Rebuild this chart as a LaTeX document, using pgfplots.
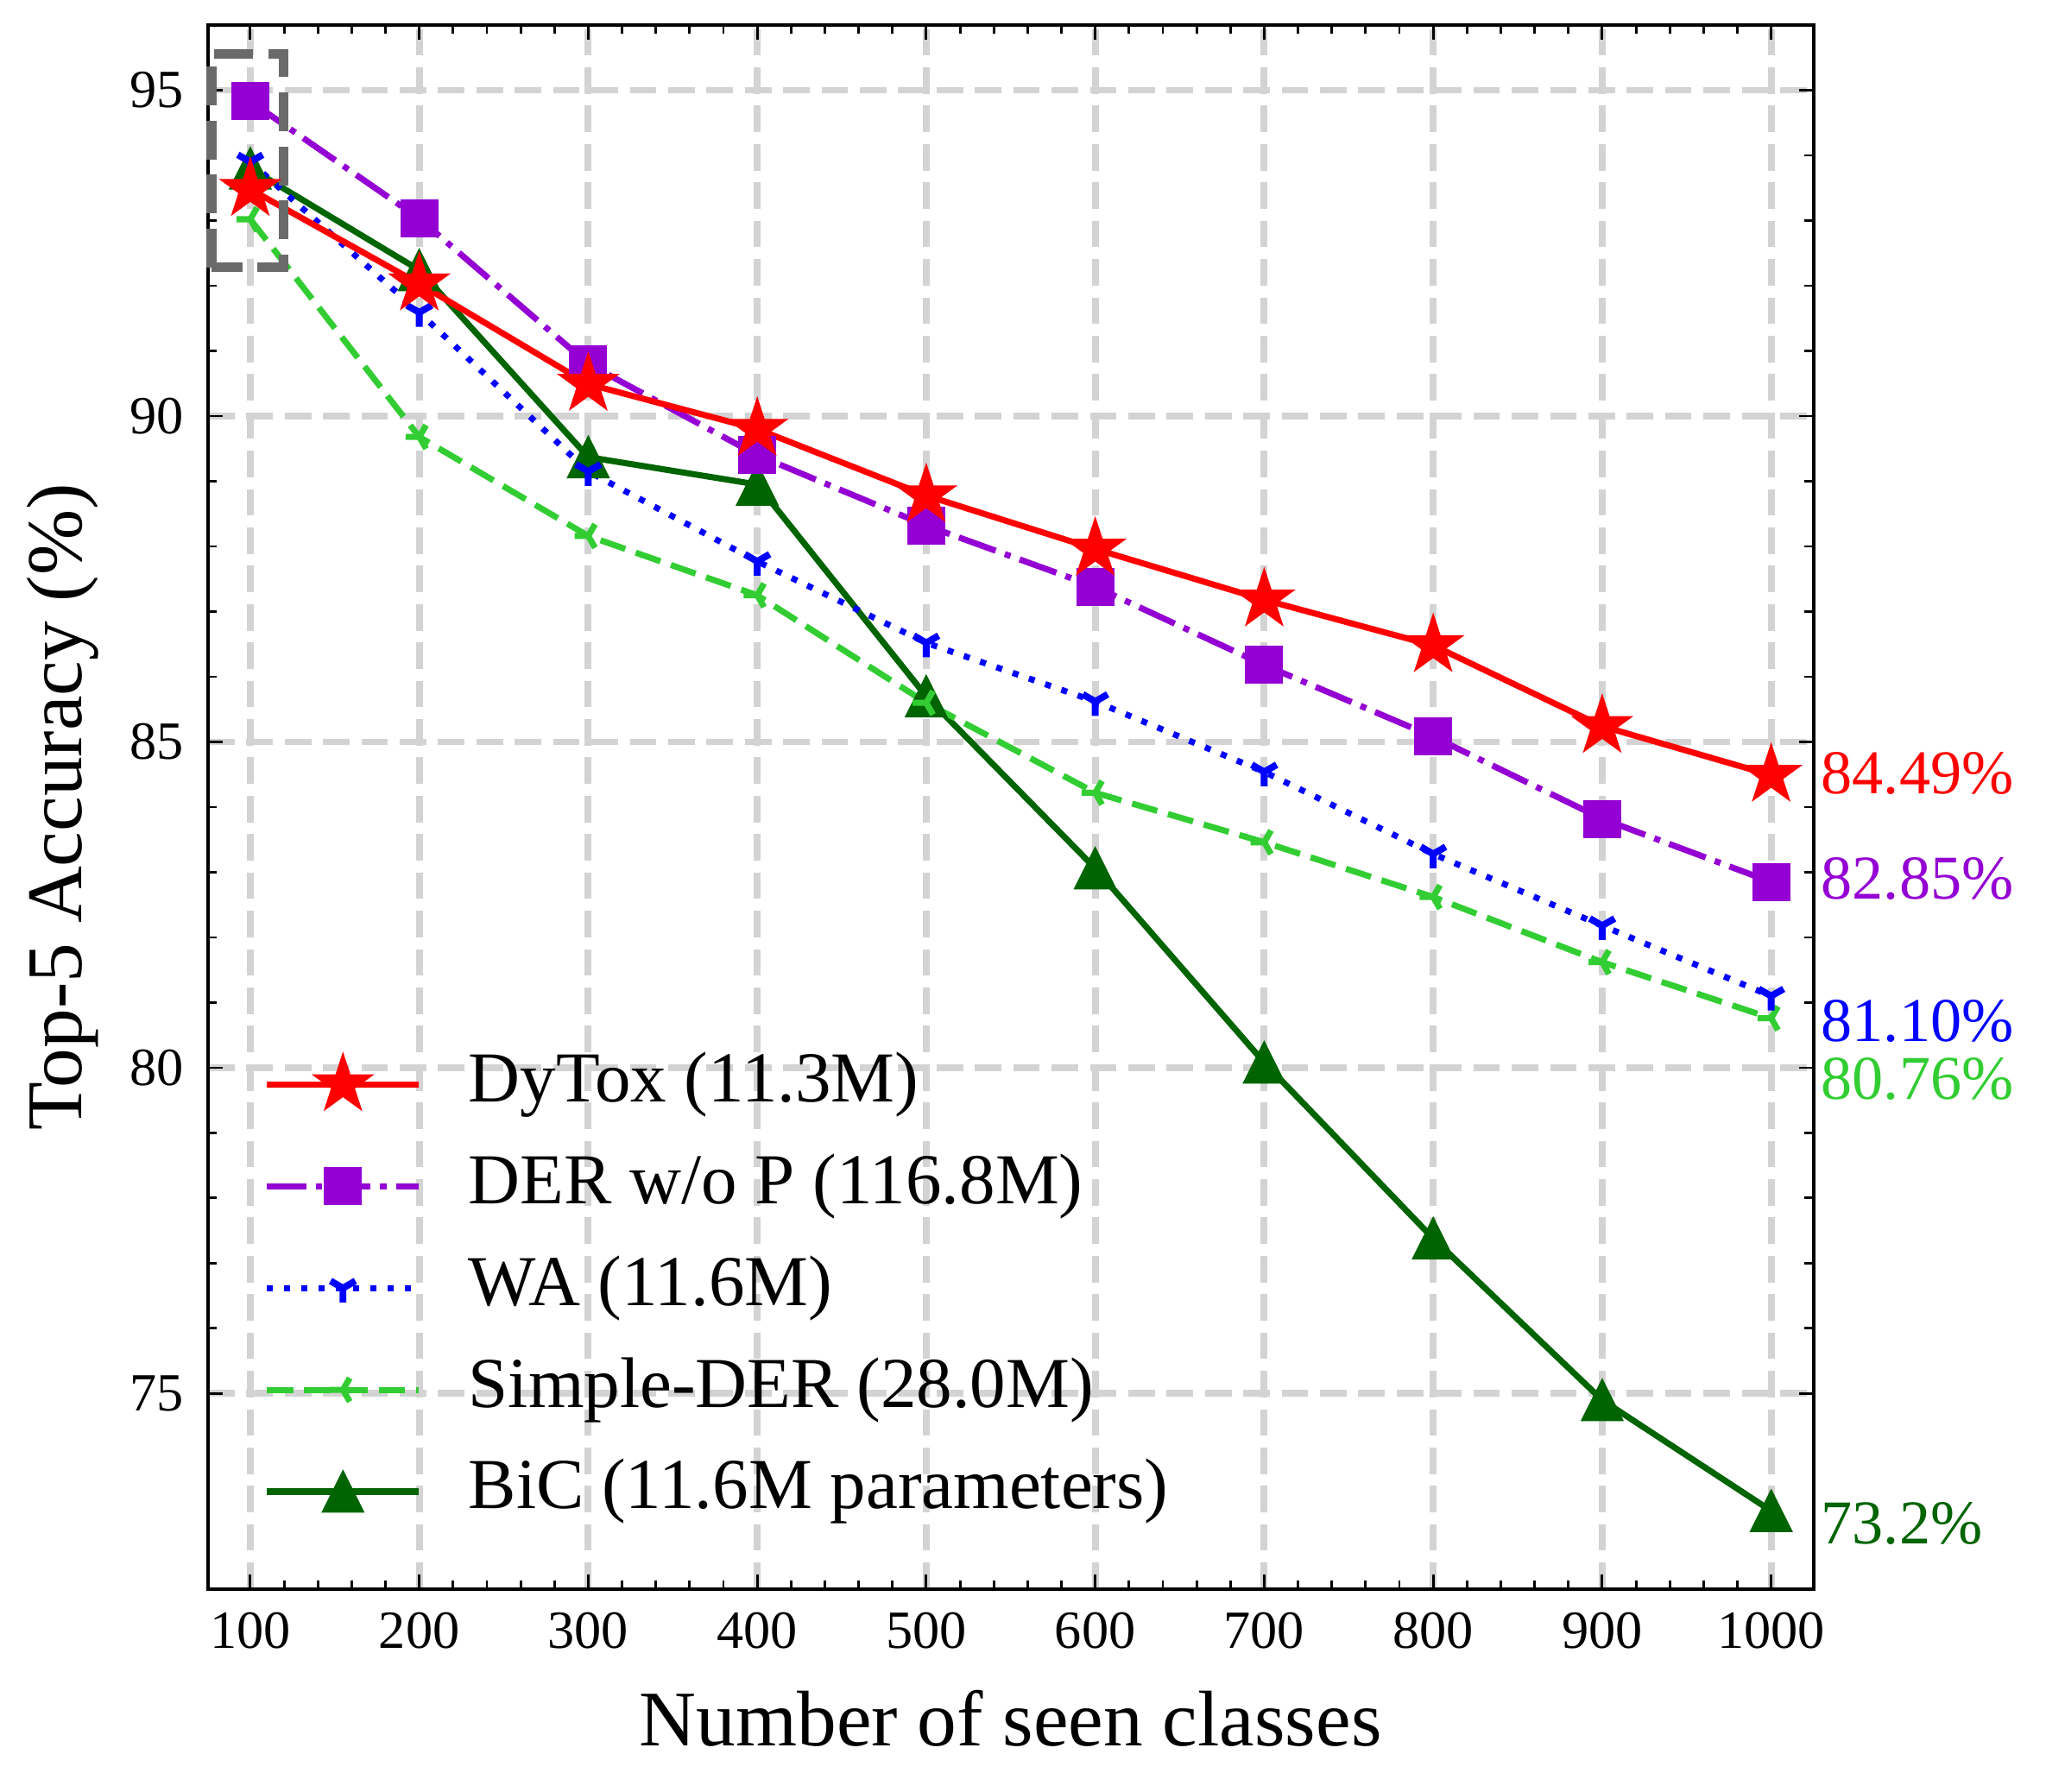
\documentclass[border=0pt]{standalone}
\usepackage{pgfplots}
\pgfplotsset{compat=1.18}
\usepackage{fontspec}
\setmainfont{Liberation Serif}
\definecolor{dytox}{HTML}{FF0000}
\definecolor{der}{HTML}{9400D3}
\definecolor{wa}{HTML}{0000FF}
\definecolor{sder}{HTML}{32CD32}
\definecolor{bic}{HTML}{006400}
\definecolor{gridc}{HTML}{D3D3D3}
\definecolor{boxc}{HTML}{6A6A6A}
\pgfdeclareplotmark{fstar}{%
  \pgfpathmoveto{\pgfpointpolar{90}{\pgfplotmarksize}}%
  \pgfpathlineto{\pgfpointpolar{126}{0.382\pgfplotmarksize}}%
  \pgfpathlineto{\pgfpointpolar{162}{\pgfplotmarksize}}%
  \pgfpathlineto{\pgfpointpolar{198}{0.382\pgfplotmarksize}}%
  \pgfpathlineto{\pgfpointpolar{234}{\pgfplotmarksize}}%
  \pgfpathlineto{\pgfpointpolar{270}{0.382\pgfplotmarksize}}%
  \pgfpathlineto{\pgfpointpolar{306}{\pgfplotmarksize}}%
  \pgfpathlineto{\pgfpointpolar{342}{0.382\pgfplotmarksize}}%
  \pgfpathlineto{\pgfpointpolar{18}{\pgfplotmarksize}}%
  \pgfpathlineto{\pgfpointpolar{54}{0.382\pgfplotmarksize}}%
  \pgfpathclose\pgfusepathqfillstroke}
\pgfdeclareplotmark{mtri}{%
  \pgfpathmoveto{\pgfqpoint{0pt}{\pgfplotmarksize}}%
  \pgfpathlineto{\pgfqpoint{-\pgfplotmarksize}{-\pgfplotmarksize}}%
  \pgfpathlineto{\pgfqpoint{\pgfplotmarksize}{-\pgfplotmarksize}}%
  \pgfpathclose\pgfusepathqfillstroke}
\begin{document}
\begin{tikzpicture}
\begin{axis}[
  at={(0,0)}, anchor=south west,
  scale only axis, width=448pt, height=436.5pt,
  xmin=75, xmax=1025, ymin=72, ymax=96,
  xtick={100,200,...,1000}, ytick={75,80,85,90,95},
  minor x tick num=4, minor y tick num=4,
  tick align=inside, xtick pos=both, ytick pos=both,
  xticklabel pos=lower, yticklabel pos=left,
  major tick length=4pt, minor tick length=2.5pt,
  every tick/.style={black, line width=0.7pt},
  axis line style={line width=1pt},
  grid=major,
  major grid style={gridc, line width=1.9pt, dash pattern=on 7.4pt off 3.3pt},
  /pgf/number format/assume math mode=true,
  /pgf/number format/1000 sep={},
  tick label style={font=\fontsize{15}{18}\selectfont},
  xticklabel style={yshift=-3pt},
  yticklabel style={xshift=-3.2pt},
  xlabel={Number of seen classes},
  ylabel={Top-5 Accuracy (\%)},
  label style={font=\fontsize{22}{26}\selectfont},
  xlabel style={at={(axis description cs:0.5,0)}, anchor=base, yshift=-43.8pt},
  ylabel style={at={(axis description cs:0,0.5)}, anchor=base, yshift=35.4pt},
  clip=false,
  reverse legend,
  legend cell align=left,
  legend style={draw=none, fill=none, at={(axis description cs:0,0)}, anchor=south west,
    xshift=15.4pt, yshift=16.3pt, inner sep=0pt, /tikz/row sep=7pt, /tikz/column sep=11.5pt,
    font=\fontsize{20}{24}\selectfont,
    nodes={inner sep=1.5pt, text depth=4.4pt, text height=14pt}},
  legend image code/.code={\draw[mark repeat=2,mark phase=2,#1] plot coordinates {(0pt,0pt)(21.2pt,0pt)(42.4pt,0pt)};},
]
\addplot[bic, line width=1.7pt, mark=mtri, mark size=5.65pt, mark options={solid, fill=bic, line width=0.5pt}]
  coordinates {(100,93.8)(200,92.24)(300,89.37)(400,88.95)(500,85.7)(600,83.06)(700,80.08)(800,77.38)(900,74.9)(1000,73.2)};
\addlegendentry{BiC (11.6M parameters)}
\addplot[sder, line width=1.7pt, dash pattern=on 7.3pt off 3.1pt, mark=Mercedes star, mark size=3.8pt, mark options={solid, rotate=90, line width=1.7pt}]
  coordinates {(100,93.02)(200,89.68)(300,88.16)(400,87.25)(500,85.60)(600,84.22)(700,83.46)(800,82.62)(900,81.62)(1000,80.76)};
\addlegendentry{Simple-DER (28.0M)}
\addplot[wa, line width=1.7pt, dash pattern=on 1.7pt off 3.1pt, mark=Mercedes star flipped, mark size=4pt, mark options={solid, line width=1.9pt}]
  coordinates {(100,93.9)(200,91.59)(300,89.15)(400,87.77)(500,86.52)(600,85.62)(700,84.54)(800,83.28)(900,82.18)(1000,81.10)};
\addlegendentry{WA (11.6M)}
\addplot[der, line width=1.7pt, dash pattern=on 10.9pt off 2.7pt on 1.7pt off 2.7pt, mark=square*, mark size=5.05pt, mark options={solid, fill=der, line width=0.5pt}]
  coordinates {(100,94.83)(200,93.03)(300,90.80)(400,89.40)(500,88.32)(600,87.38)(700,86.18)(800,85.08)(900,83.82)(1000,82.85)};
\addlegendentry{DER w/o P (116.8M)}
\addplot[dytox, line width=1.7pt, mark=fstar, mark size=8.4pt, mark options={solid, fill=dytox, line width=0.5pt}]
  coordinates {(100,93.48)(200,92.03)(300,90.49)(400,89.80)(500,88.78)(600,87.96)(700,87.18)(800,86.48)(900,85.24)(1000,84.49)};
\addlegendentry{DyTox (11.3M)}
\draw[boxc, line width=2.7pt, dash pattern=on 10.8pt off 4.3pt] (axis cs:77,92.28) rectangle (axis cs:119.7,95.56);
\begin{scope}[every node/.style={anchor=west, inner sep=0pt, xshift=2pt, font=\fontsize{17.4}{20}\selectfont}]
\node[text=dytox] at (axis cs:1025,84.52) {84.49\%};
\node[text=der] at (axis cs:1025,82.90) {82.85\%};
\node[text=wa] at (axis cs:1025,80.72) {81.10\%};
\node[text=sder] at (axis cs:1025,79.83) {80.76\%};
\node[text=bic] at (axis cs:1025,73.0) {73.2\%};
\end{scope}
\end{axis}
\pgfresetboundingbox
\path[use as bounding box] (-58.06pt,-56.4pt) rectangle (512.9pt,443.5pt);
\end{tikzpicture}
\end{document}
